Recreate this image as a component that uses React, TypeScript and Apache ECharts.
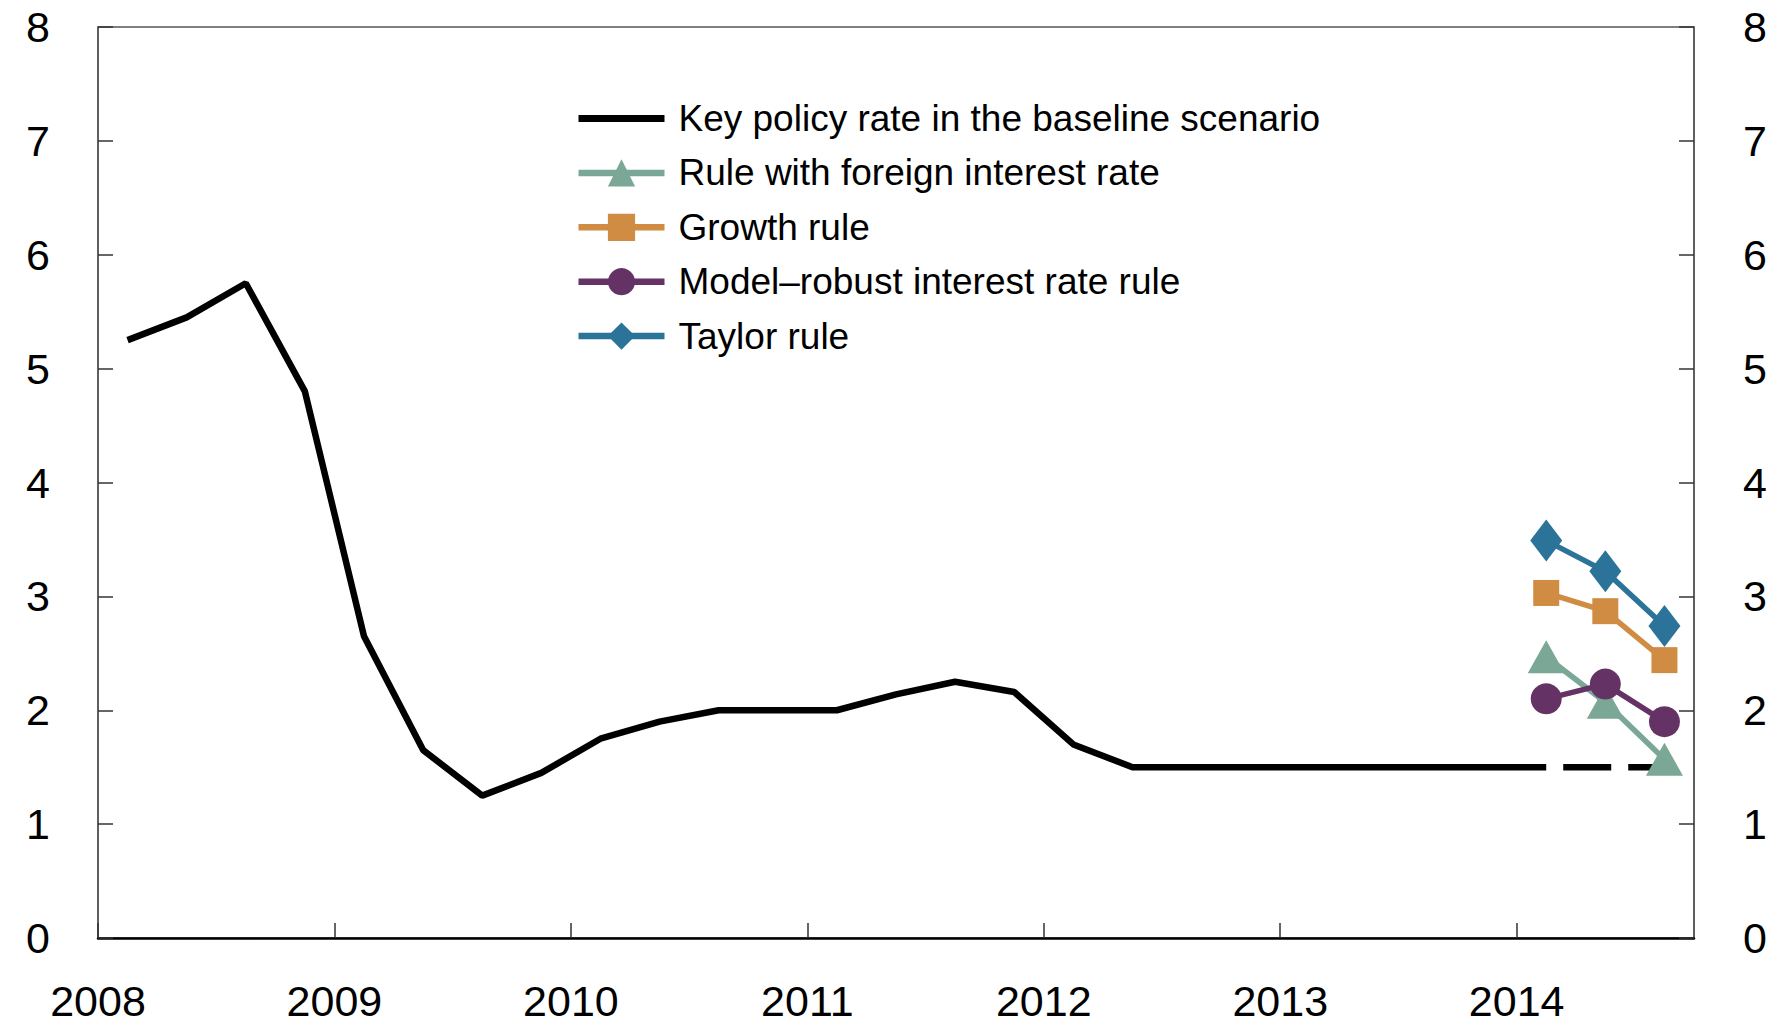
import React, { useEffect, useRef } from "react";
import * as echarts from "echarts";

// Quarterly observations, 2008Q1 .. 2014Q3
const quarters = [
  "2008Q1","2008Q2","2008Q3","2008Q4","2009Q1","2009Q2","2009Q3","2009Q4",
  "2010Q1","2010Q2","2010Q3","2010Q4","2011Q1","2011Q2","2011Q3","2011Q4",
  "2012Q1","2012Q2","2012Q3","2012Q4","2013Q1","2013Q2","2013Q3","2013Q4",
  "2014Q1","2014Q2","2014Q3",
];
// Key policy rate (solid part 2008Q1..2014Q1)
const keyRate = [
  5.25, 5.45, 5.75, 4.8, 2.65, 1.65, 1.25, 1.45,
  1.75, 1.9, 2.0, 2.0, 2.0, 2.14, 2.25, 2.16,
  1.7, 1.5, 1.5, 1.5, 1.5, 1.5, 1.5, 1.5,
  1.5,
];
// Baseline projection (dashed) 2014Q1..2014Q3
const projQuarters = ["2014Q1", "2014Q2", "2014Q3"];
const keyRateProj = [1.5, 1.5, 1.5];
const foreignRule = [2.47, 2.07, 1.57];
const growthRule = [3.03, 2.87, 2.44];
const robustRule = [2.1, 2.23, 1.9];
const taylorRule = [3.49, 3.22, 2.74];

const yTicks = [0, 1, 2, 3, 4, 5, 6, 7, 8];
const xYears = [2008, 2009, 2010, 2011, 2012, 2013, 2014];

const seriesNames = [
  "Key policy rate in the baseline scenario",
  "Rule with foreign interest rate",
  "Growth rule",
  "Model\u2013robust interest rate rule",
  "Taylor rule",
];
const colors = ["#000000", "#7aa796", "#d08c42", "#643264", "#2b7399"];

function qx(q: string): number {
  const y = parseInt(q.slice(0, 4), 10);
  const n = parseInt(q.slice(5), 10);
  return y + (n - 0.5) / 4;
}

const FONT = "'Liberation Sans', Arial, Helvetica, sans-serif";

export default function App() {
  const ref = useRef<HTMLDivElement>(null);
  useEffect(() => {
    if (!ref.current) return;
    const chart = echarts.init(ref.current, undefined, { renderer: "svg" });
    const pair = (qs: string[], vs: number[]) => vs.map((v, i) => [qx(qs[i]), v]);
    const ruleSeries = (idx: number, vals: number[], symbol: string, size: any) => ({
      name: seriesNames[idx],
      type: "line",
      data: pair(projQuarters, vals),
      symbol,
      symbolSize: size,
      showSymbol: true,
      color: colors[idx],
      lineStyle: { color: colors[idx], width: 5.5 },
      itemStyle: { color: colors[idx] },
      z: 3 + idx,
    });
    chart.setOption({
      animation: false,
      backgroundColor: "#ffffff",
      textStyle: { fontFamily: FONT },
      grid: {
        left: 98,
        right: 80,
        top: 27,
        bottom: 87,
        show: true,
        borderColor: "#555555",
        borderWidth: 1.5,
        backgroundColor: "transparent",
      },
      legend: {
        orient: "vertical",
        left: 575,
        top: 100,
        padding: 0,
        itemWidth: 86,
        itemHeight: 34,
        itemGap: 17.4,
        lineStyle: { width: 6.5 },
        data: seriesNames.map((n, i) =>
          i === 0
            ? { name: n, itemStyle: { opacity: 0 }, lineStyle: { width: 7, color: "#000" } }
            : { name: n, lineStyle: { width: 6.5, color: colors[i] } }
        ),
        textStyle: {
          fontFamily: FONT,
          fontSize: 37,
          color: "#000000",
          padding: [0, 0, 0, 9],
        },
      },
      xAxis: {
        type: "value",
        min: 2008,
        max: 2014.75,
        interval: 1,
        axisLine: { show: true, lineStyle: { color: "#000000", width: 2.5 } },
        axisTick: { show: true, inside: true, length: 15, lineStyle: { color: "#333333", width: 1.5 } },
        axisLabel: {
          fontFamily: FONT,
          fontSize: 43,
          color: "#000000",
          margin: 41,
          showMaxLabel: false,
          formatter: (v: number) => (xYears.indexOf(v) >= 0 ? String(v) : ""),
        },
        splitLine: { show: false },
      },
      yAxis: [
        {
          type: "value",
          min: yTicks[0],
          max: yTicks[yTicks.length - 1],
          interval: 1,
          position: "left",
          axisLine: { show: true, lineStyle: { color: "#555555", width: 1.5 } },
          axisTick: { show: true, inside: true, length: 15, lineStyle: { color: "#333333", width: 1.5 } },
          axisLabel: { fontFamily: FONT, fontSize: 43, color: "#000000", margin: 48 },
          splitLine: { show: false },
        },
        {
          type: "value",
          min: yTicks[0],
          max: yTicks[yTicks.length - 1],
          interval: 1,
          position: "right",
          axisLine: { show: true, lineStyle: { color: "#555555", width: 1.5 } },
          axisTick: { show: true, inside: true, length: 15, lineStyle: { color: "#333333", width: 1.5 } },
          axisLabel: { fontFamily: FONT, fontSize: 43, color: "#000000", margin: 49 },
          splitLine: { show: false },
        },
      ],
      series: [
        {
          name: seriesNames[0],
          type: "line",
          data: pair(quarters, keyRate),
          symbol: "none",
          color: "#000000",
          lineStyle: { color: "#000000", width: 6.5 },
          z: 2,
        },
        {
          name: seriesNames[0] + " proj",
          type: "line",
          data: pair(projQuarters, keyRateProj),
          symbol: "none",
          color: "#000000",
          lineStyle: { color: "#000000", width: 6.5, type: [48, 17], dashOffset: -17 },
          z: 2,
        },
        ruleSeries(1, foreignRule, "triangle", [37, 33]),
        ruleSeries(2, growthRule, "rect", 26),
        ruleSeries(3, robustRule, "circle", 31),
        ruleSeries(4, taylorRule, "diamond", [32, 42]),
      ],
    });
    return () => chart.dispose();
  }, []);
  return (
    <div
      ref={ref}
      style={{ position: "fixed", left: 0, top: 0, width: 1774, height: 1025, background: "#fff" }}
    />
  );
}
